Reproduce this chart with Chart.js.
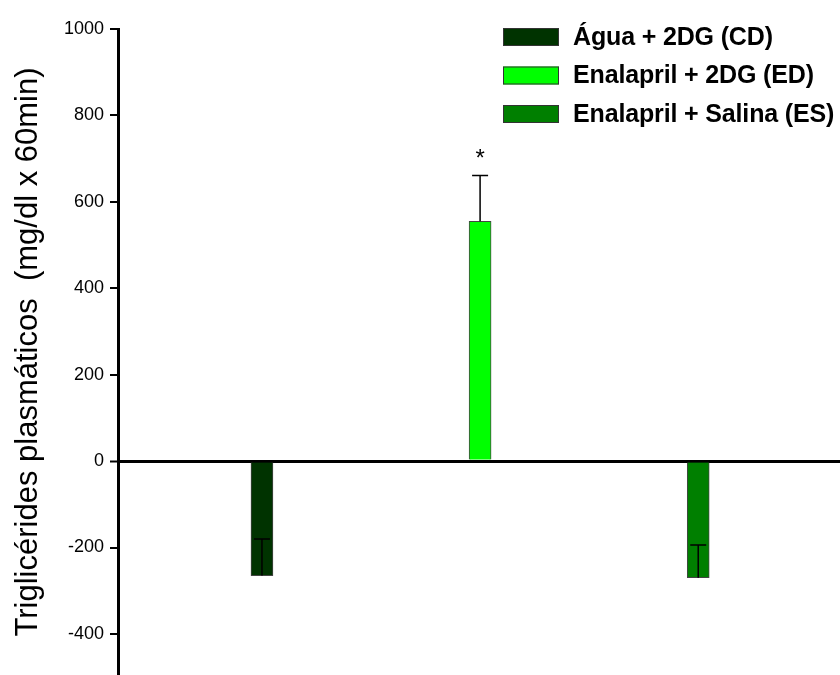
<!DOCTYPE html>
<html>
<head>
<meta charset="utf-8">
<script src="https://cdn.jsdelivr.net/npm/chart.js@4/dist/chart.umd.min.js"></script>
<style>
  html, body { margin: 0; padding: 0; background: #fff; }
  #wrap { width: 840px; height: 675px; position: relative; }
</style>
</head>
<body>
<div id="wrap"><canvas id="c" width="840" height="675"></canvas></div>
<script>
// ---- data ----
const groups = ["Água + 2DG (CD)", "Enalapril + 2DG (ED)", "Enalapril + Salina (ES)"];
const groupPositions = [1, 2, 3];
const meanValues = [-265, 555, -270];
const errorEnds = [-180, 661, -194];
const significance = ["", "*", ""];
const barColors = ["#003300", "#00FF00", "#007F00"];
const yTickValues = [-400, -200, 0, 200, 400, 600, 800, 1000];
const yTitle = "Triglicérides plasmáticos  (mg/dl x 60min)";

const FONT = "'Liberation Sans', Arial, sans-serif";

const datasets = groups.map((g, i) => ({
  label: g,
  data: [{ x: groupPositions[i], y: meanValues[i] }],
  backgroundColor: barColors[i],
  borderColor: "#444",
  borderWidth: 1,
  barThickness: 22,
  grouped: false
}));

const errorPlugin = {
  id: "errorBars",
  afterDatasetsDraw(chart) {
    const ctx = chart.ctx;
    const ys = chart.scales.y;
    ctx.save();
    ctx.strokeStyle = "#000";
    ctx.lineWidth = 1.5;
    chart.data.datasets.forEach((ds, i) => {
      const el = chart.getDatasetMeta(i).data[0];
      const x = el.x;
      const y0 = ys.getPixelForValue(meanValues[i]);
      const y1 = ys.getPixelForValue(errorEnds[i]);
      ctx.beginPath();
      ctx.moveTo(x, y0);
      ctx.lineTo(x, y1);
      ctx.moveTo(x - 8, y1);
      ctx.lineTo(x + 8, y1);
      ctx.stroke();
      if (significance[i]) {
        ctx.fillStyle = "#000";
        ctx.font = "24px " + FONT;
        ctx.textAlign = "center";
        ctx.textBaseline = "middle";
        ctx.fillText(significance[i], x, y1 - 16);
      }
    });
    ctx.restore();
  }
};

const legendPlugin = {
  id: "customLegend",
  afterDraw(chart) {
    const ctx = chart.ctx;
    ctx.save();
    chart.data.datasets.forEach((ds, i) => {
      const cy = 37 + i * 38.5;
      ctx.fillStyle = ds.backgroundColor;
      ctx.fillRect(503, cy - 9, 56, 18);
      ctx.strokeStyle = "#333";
      ctx.lineWidth = 1;
      ctx.strokeRect(503.5, cy - 8.5, 55, 17);
      ctx.fillStyle = "#000";
      ctx.font = "bold 25px " + FONT;
      try { ctx.letterSpacing = "-0.15px"; } catch (e) {}
      ctx.textAlign = "left";
      ctx.textBaseline = "middle";
      ctx.fillText(ds.label, 573, cy + 1);
    });
    ctx.restore();
  }
};

new Chart(document.getElementById("c"), {
  type: "bar",
  data: { datasets },
  plugins: [errorPlugin, legendPlugin],
  options: {
    responsive: false,
    animation: false,
    devicePixelRatio: 1,
    layout: { padding: { top: 29, right: 0, bottom: 0, left: 0 } },
    plugins: { legend: { display: false }, tooltip: { enabled: false } },
    scales: {
      x: {
        type: "linear",
        min: 0.34,
        max: 3.65,
        offset: false,
        display: false
      },
      y: {
        min: -495,
        max: 1000,
        afterBuildTicks(scale) {
          scale.ticks = yTickValues.map(v => ({ value: v }));
        },
        afterFit(scale) {
          scale.width = 118;
          scale.paddingTop = 0;
          scale.paddingBottom = 0;
        },
        border: { display: true, color: "#000", width: 3 },
        grid: {
          drawOnChartArea: true,
          color: (c) => (c.tick && c.tick.value === 0 ? "#000" : "rgba(0,0,0,0)"),
          lineWidth: (c) => (c.tick && c.tick.value === 0 ? 3 : 0),
          drawTicks: true,
          tickLength: 8,
          tickColor: "#000",
          tickWidth: 2
        },
        ticks: {
          color: "#000",
          padding: 6,
          font: { family: FONT, size: 18 },
          callback: (v) => String(v)
        },
        title: {
          display: true,
          text: yTitle,
          color: "#000",
          font: { family: FONT, size: 31 },
          padding: { top: 10, bottom: 0 }
        }
      }
    }
  }
});
</script>
</body>
</html>
